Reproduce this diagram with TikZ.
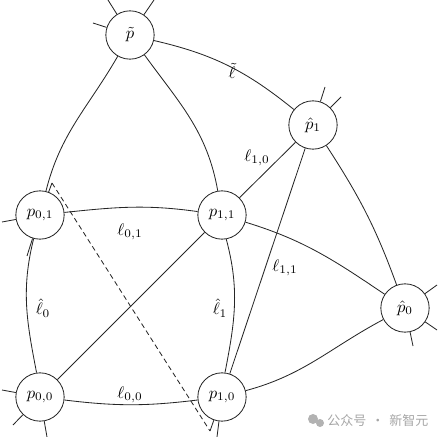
\documentclass[tikz,border=0pt]{standalone}
\usepackage{fontspec}
\newfontfamily\cjk{Noto Sans CJK SC}
\begin{document}
\begin{tikzpicture}[x=0.6pt,y=-0.6pt,
  vtx/.style={circle,draw=black!85,line width=0.5pt,minimum size=29pt,inner sep=0pt},
  edge/.style={draw=black!85,line width=0.5pt},
  lbl/.style={inner sep=1pt},
  wm/.style={text=black!35,inner sep=0pt}]
\useasboundingbox (0,0) rectangle (438,437);
% vertices
\node[vtx] (pt)  at (130,35)  {$\tilde{p}$};
\node[vtx] (ph1) at (313,125) {$\hat{p}_1$};
\node[vtx] (p01) at (40,215)  {$p_{0,1}$};
\node[vtx] (p11) at (222,215) {$p_{1,1}$};
\node[vtx] (ph0) at (405,308) {$\hat{p}_0$};
\node[vtx] (p00) at (40,397)  {$p_{0,0}$};
\node[vtx] (p10) at (222,397) {$p_{1,0}$};
% stub ends
\coordinate (pta) at (108,0);
\coordinate (ptb) at (154,0);
\coordinate (ptc) at (93,23);
\coordinate (h1a) at (325,87);
\coordinate (h1b) at (341,97);
\coordinate (p01a) at (2,222);
\coordinate (p01b) at (27,256);
\coordinate (p01c) at (52,183);
\coordinate (h0a) at (437,285);
\coordinate (h0b) at (437,330);
\coordinate (h0c) at (413,346);
\coordinate (p00a) at (2,390);
\coordinate (p00b) at (13,425);
\coordinate (p00c) at (47,437);
\coordinate (p10a) at (210,431);
\coordinate (p10b) at (217,437);
% stubs
\foreach \n/\c in {pt/pta,pt/ptb,pt/ptc,ph1/h1a,ph1/h1b,p01/p01a,p01/p01b,p01/p01c,
  ph0/h0a,ph0/h0b,ph0/h0c,p00/p00a,p00/p00b,p00/p00c,p10/p10a,p10/p10b}
  \draw[edge] (\n) -- (\c);
% dashed cut
\draw[edge,dash pattern=on 3pt off 2pt] (p01c) -- (p10a);
% edges
\draw[edge] (pt) to[out=347,in=141] (ph1);
\draw[edge] (pt) to[out=240,in=76] (p01);
\draw[edge] (pt) to[out=306,in=100] (p11);
\draw[edge] (ph1) -- (p11);
\draw[edge] (ph1) -- (p10);
\draw[edge] (ph1) to[out=303,in=110] (ph0);
\draw[edge] (p01) to[out=6,in=172] (p11);
\draw[edge] (p00) to[out=-7,in=187] (p10);
\draw[edge] (p01.255) to[out=256,in=101] (p00.98);
\draw[edge] (p11.280) to[out=285,in=79] (p10.83);
\draw[edge] (p00) -- (p11);
\draw[edge] (p11) to[out=343,in=146] (ph0);
\draw[edge] (p10) to[out=15,in=208] (ph0);
% labels
\node[lbl] (lt)  at (232,71)  {$\tilde{\ell}$};
\node[lbl] (l10) at (257,158) {$\ell_{1,0}$};
\node[lbl] (l01) at (130,232) {$\ell_{0,1}$};
\node[lbl] (lh0) at (43,308)  {$\hat{\ell}_0$};
\node[lbl] (lh1) at (220,308) {$\hat{\ell}_1$};
\node[lbl] (l11) at (285,268) {$\ell_{1,1}$};
\node[lbl] (l00) at (130,395) {$\ell_{0,0}$};
% watermark
\fill[black!30] (313,419) circle[radius=5];
\fill[black!30] (320,423) circle[radius=4];
\node[wm,anchor=west] (wmt) at (327,421) {\fontsize{7.8pt}{8pt}\cjk 公众号\hspace{3pt}·\hspace{3pt}新智元};
\end{tikzpicture}
\end{document}
